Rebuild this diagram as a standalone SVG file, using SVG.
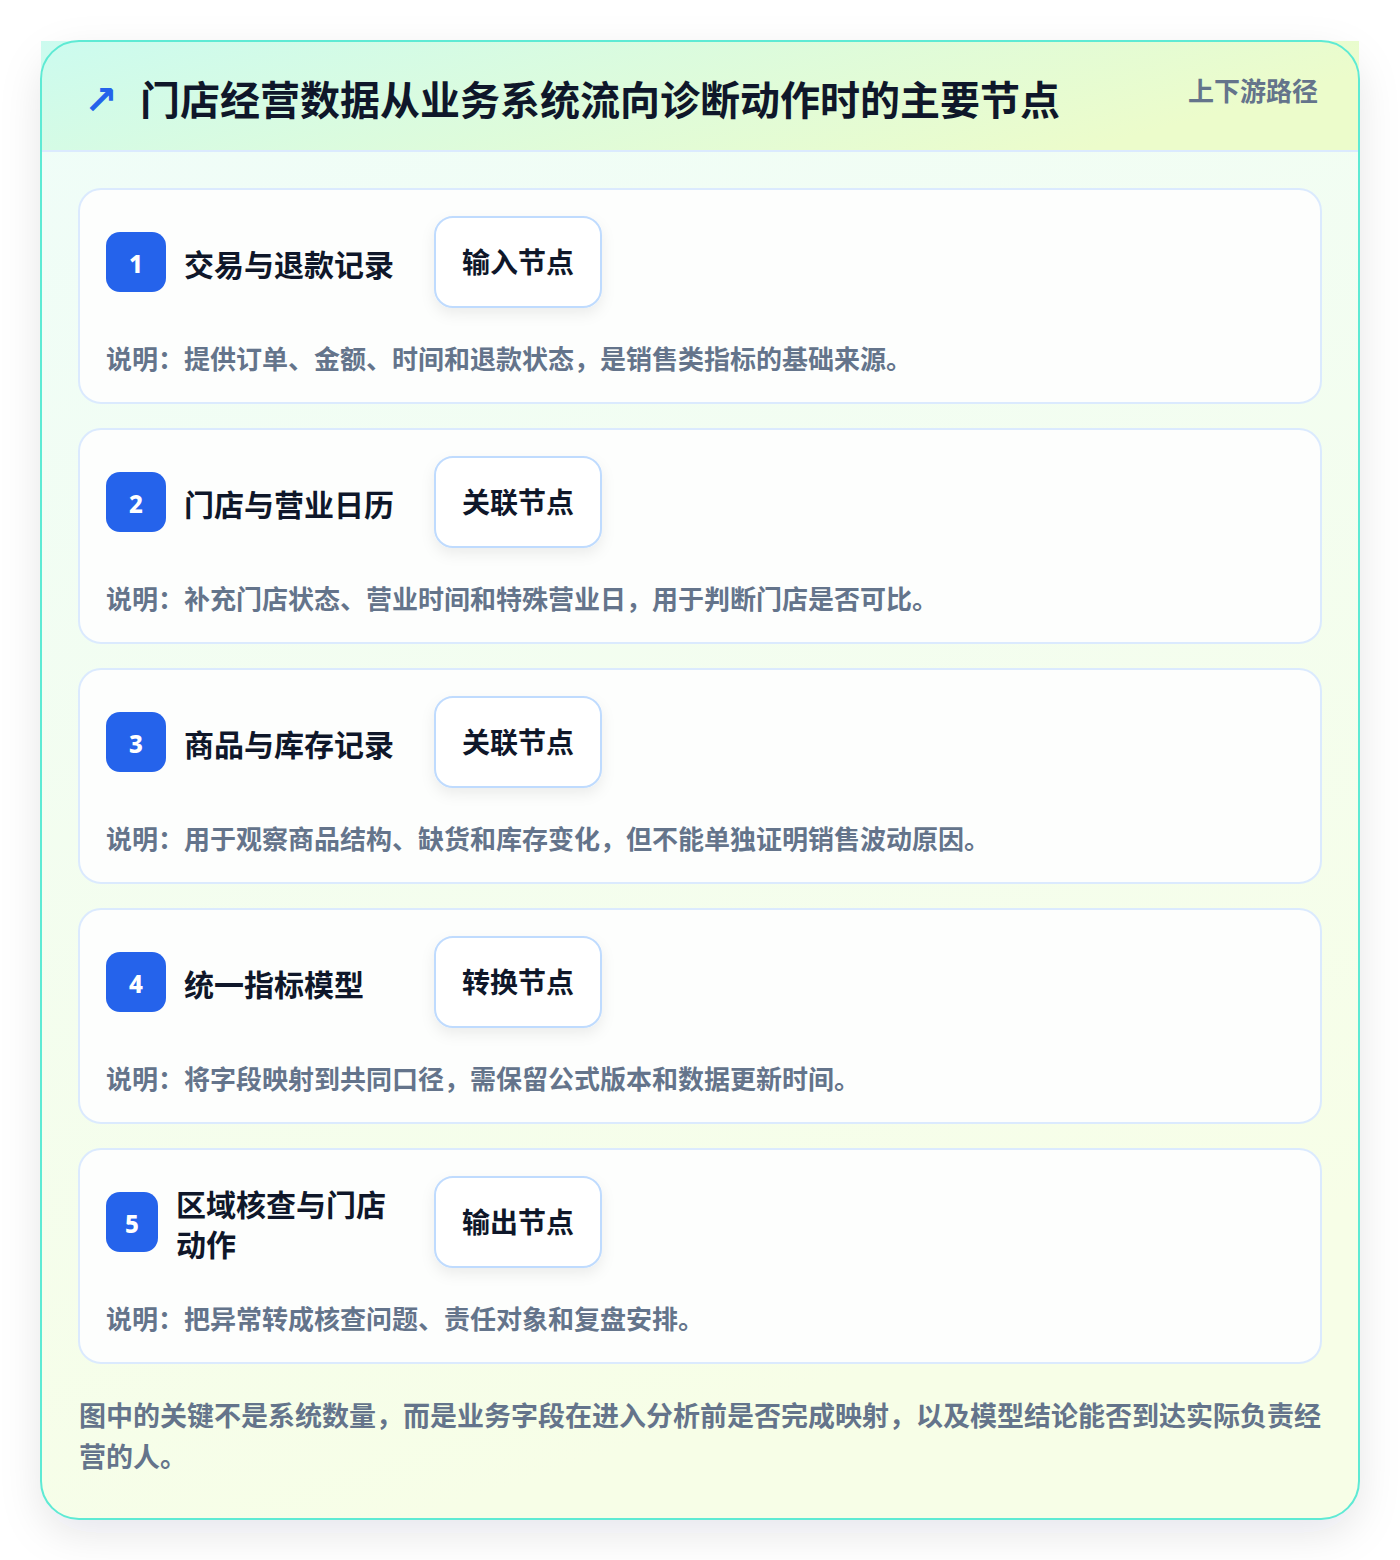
<svg xmlns="http://www.w3.org/2000/svg" width="1400" height="1560" viewBox="0 0 1400 1560">
<defs>
<linearGradient id="bodyG" x1="0" y1="0" x2="0.3" y2="1">
<stop offset="0" stop-color="#effdf9"/>
<stop offset="1" stop-color="#f7fee7"/>
</linearGradient>
<linearGradient id="headG" x1="0" y1="0" x2="1" y2="0.3">
<stop offset="0" stop-color="#ccfbef"/>
<stop offset="1" stop-color="#ecfccb"/>
</linearGradient>
<filter id="outerSh" x="-10%" y="-10%" width="120%" height="120%">
<feDropShadow dx="0" dy="14" stdDeviation="20" flood-color="#0f172a" flood-opacity="0.10"/>
</filter>
<filter id="tagSh" x="-20%" y="-20%" width="140%" height="150%">
<feDropShadow dx="0" dy="6" stdDeviation="7" flood-color="#0f172a" flood-opacity="0.07"/>
</filter>
</defs>
<style>
.cjk{font-family:"Noto Sans CJK SC","Noto Sans",sans-serif;font-weight:700}
.card{fill:#fdfefd;stroke:#dbeafe;stroke-width:2}
.badge{fill:#2563eb}
.num{fill:#ffffff;font-size:24px;font-family:"Noto Sans","Liberation Sans",sans-serif;font-weight:800}
.ttl{fill:#0f172a;font-size:30px}
.tag{fill:#ffffff;stroke:#bfdbfe;stroke-width:2}
.tagt{fill:#0f172a;font-size:28px}
.desc{fill:#64748b;font-size:26px}
</style>
<rect x="0" y="0" width="1400" height="1560" fill="#ffffff"/>
<g id="frame">
<rect x="41" y="41" width="1318" height="1478" rx="38" fill="url(#bodyG)" filter="url(#outerSh)"/>
<rect x="41" y="41" width="1318" height="110" fill="url(#headG)"/>
<line x1="41" y1="151" x2="1359" y2="151" stroke="#dbeafe" stroke-width="2"/>
<rect x="41" y="41" width="1318" height="1478" rx="38" fill="none" stroke="#5eead4" stroke-width="2"/>
<text x="84" y="100" font-family="DejaVu Sans,sans-serif" font-size="40" font-weight="700" fill="#2563eb" dominant-baseline="central">↗</text>
<text class="cjk" x="140" y="98" font-size="40" fill="#0f172a" dominant-baseline="central">门店经营数据从业务系统流向诊断动作时的主要节点</text>
<text class="cjk" x="1318" y="89" font-size="26" fill="#64748b" text-anchor="end" dominant-baseline="central">上下游路径</text>
</g>
<g id="connectors"></g>
<g id="node1">
<rect class="card" x="79" y="189" width="1242" height="214" rx="22"/>
<rect class="badge" x="106" y="232" width="60" height="60" rx="14"/>
<text class="num" x="136" y="263" text-anchor="middle" dominant-baseline="central">1</text>
<text class="cjk ttl" x="184" y="263" dominant-baseline="central">交易与退款记录</text>
<rect class="tag" x="435" y="217" width="166" height="90" rx="18" filter="url(#tagSh)"/>
<text class="cjk tagt" x="518" y="261" text-anchor="middle" dominant-baseline="central">输入节点</text>
<text class="cjk desc" x="106" y="357" dominant-baseline="central">说明：提供订单、金额、时间和退款状态，是销售类指标的基础来源。</text>
</g>
<g id="node2">
<rect class="card" x="79" y="429" width="1242" height="214" rx="22"/>
<rect class="badge" x="106" y="472" width="60" height="60" rx="14"/>
<text class="num" x="136" y="503" text-anchor="middle" dominant-baseline="central">2</text>
<text class="cjk ttl" x="184" y="503" dominant-baseline="central">门店与营业日历</text>
<rect class="tag" x="435" y="457" width="166" height="90" rx="18" filter="url(#tagSh)"/>
<text class="cjk tagt" x="518" y="501" text-anchor="middle" dominant-baseline="central">关联节点</text>
<text class="cjk desc" x="106" y="597" dominant-baseline="central">说明：补充门店状态、营业时间和特殊营业日，用于判断门店是否可比。</text>
</g>
<g id="node3">
<rect class="card" x="79" y="669" width="1242" height="214" rx="22"/>
<rect class="badge" x="106" y="712" width="60" height="60" rx="14"/>
<text class="num" x="136" y="743" text-anchor="middle" dominant-baseline="central">3</text>
<text class="cjk ttl" x="184" y="743" dominant-baseline="central">商品与库存记录</text>
<rect class="tag" x="435" y="697" width="166" height="90" rx="18" filter="url(#tagSh)"/>
<text class="cjk tagt" x="518" y="741" text-anchor="middle" dominant-baseline="central">关联节点</text>
<text class="cjk desc" x="106" y="837" dominant-baseline="central">说明：用于观察商品结构、缺货和库存变化，但不能单独证明销售波动原因。</text>
</g>
<g id="node4">
<rect class="card" x="79" y="909" width="1242" height="214" rx="22"/>
<rect class="badge" x="106" y="952" width="60" height="60" rx="14"/>
<text class="num" x="136" y="983" text-anchor="middle" dominant-baseline="central">4</text>
<text class="cjk ttl" x="184" y="983" dominant-baseline="central">统一指标模型</text>
<rect class="tag" x="435" y="937" width="166" height="90" rx="18" filter="url(#tagSh)"/>
<text class="cjk tagt" x="518" y="981" text-anchor="middle" dominant-baseline="central">转换节点</text>
<text class="cjk desc" x="106" y="1077" dominant-baseline="central">说明：将字段映射到共同口径，需保留公式版本和数据更新时间。</text>
</g>
<g id="node5">
<rect class="card" x="79" y="1149" width="1242" height="214" rx="22"/>
<rect class="badge" x="106" y="1192" width="52" height="60" rx="14"/>
<text class="num" x="132" y="1223" text-anchor="middle" dominant-baseline="central">5</text>
<text class="cjk ttl" x="176" y="1203" dominant-baseline="central">区域核查与门店</text>
<text class="cjk ttl" x="176" y="1243" dominant-baseline="central">动作</text>
<rect class="tag" x="435" y="1177" width="166" height="90" rx="18" filter="url(#tagSh)"/>
<text class="cjk tagt" x="518" y="1221" text-anchor="middle" dominant-baseline="central">输出节点</text>
<text class="cjk desc" x="106" y="1317" dominant-baseline="central">说明：把异常转成核查问题、责任对象和复盘安排。</text>
</g>
<g id="footer">
<text class="cjk" x="79" y="1414" font-size="27" fill="#64748b" dominant-baseline="central">图中的关键不是系统数量，而是业务字段在进入分析前是否完成映射，以及模型结论能否到达实际负责经</text>
<text class="cjk" x="79" y="1455" font-size="27" fill="#64748b" dominant-baseline="central">营的人。</text>
</g>
</svg>
